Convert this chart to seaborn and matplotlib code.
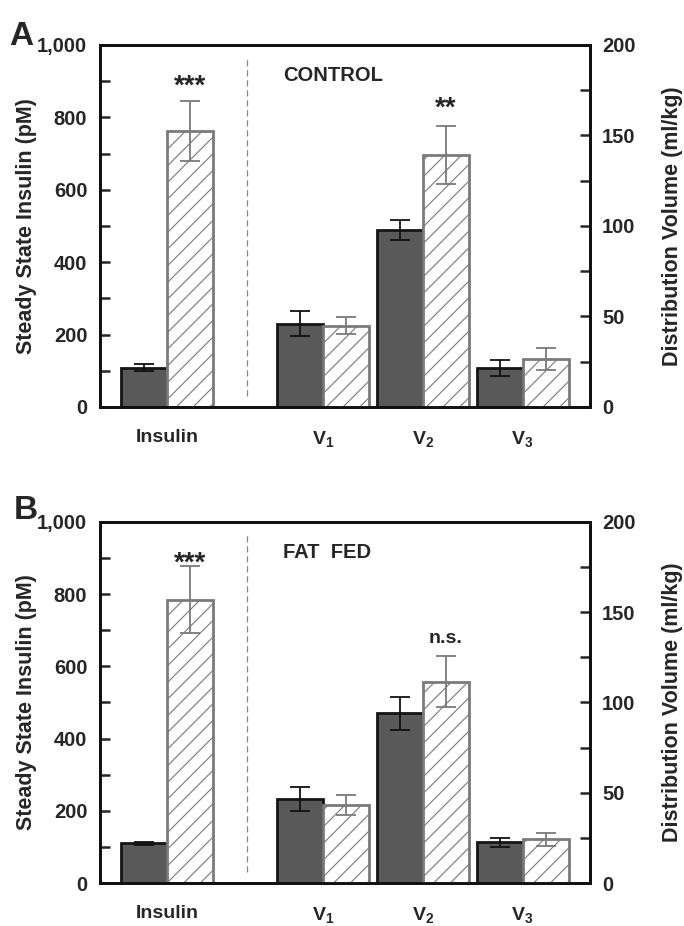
import numpy as np
import pandas as pd
import matplotlib
matplotlib.use("Agg")
import matplotlib.pyplot as plt
import seaborn as sns

# values
groups = ["pre", "post"]
x_labels = ["Insulin", r"$\mathbf{V_1}$", r"$\mathbf{V_2}$", r"$\mathbf{V_3}$"]

# A - control
ctrl_insulin = [108, 762]
ctrl_insulin_err = [10, 84]
ctrl_v_pre = [46, 98, 21.5]
ctrl_v_pre_err = [7, 5.5, 4.4]
ctrl_v_post = [45, 139, 26.5]
ctrl_v_post_err = [4.5, 16, 6]

# B - fat fed
fat_insulin = [110, 784]
fat_insulin_err = [5, 93]
fat_v_pre = [46.4, 94, 22.5]
fat_v_pre_err = [6.7, 9.3, 2.7]
fat_v_post = [43.2, 111.5, 24.2]
fat_v_post_err = [5.5, 14, 3.5]

# layout (group centres on a numeric x scale)
group_pos = [0, 1.56, 2.56, 3.56]

sns.set_style("ticks")
plt.rcParams["font.family"] = ["Liberation Sans", "DejaVu Sans"]
plt.rcParams["font.weight"] = "bold"
plt.rcParams["axes.labelweight"] = "bold"
plt.rcParams["mathtext.fontset"] = "custom"
plt.rcParams["mathtext.bf"] = "Liberation Sans:bold"
plt.rcParams["mathtext.rm"] = "Liberation Sans:bold"
plt.rcParams["hatch.linewidth"] = 0.8

dark = "#595959"
grey = "#7a7a7a"


def style_bars(ax, errs):
    for i, (cont, err) in enumerate(zip(ax.containers, errs)):
        xs = []
        ys = []
        for p in cont.patches:
            if i == 0:
                p.set_facecolor(dark)
                p.set_edgecolor("#151515")
            else:
                p.set_facecolor("white")
                p.set_edgecolor(grey)
                p.set_hatch("//")
            p.set_linewidth(2)
            xs.append(p.get_x() + p.get_width() / 2)
            ys.append(p.get_height())
        ax.errorbar(xs, ys, yerr=err, fmt="none", ecolor="#111111" if i == 0 else grey,
                    elinewidth=1.3, capsize=7, capthick=1.3, zorder=5)


def draw_panel(ax, insulin, insulin_err, v_pre, v_pre_err, v_post, v_post_err,
               title, ins_mark, v2_mark):
    df_ins = pd.DataFrame({"pos": [group_pos[0]] * 2, "group": groups, "value": insulin})
    df_v = pd.DataFrame({"pos": group_pos[1:] * 2,
                         "group": ["pre"] * 3 + ["post"] * 3,
                         "value": v_pre + v_post})
    ax2 = ax.twinx()
    sns.barplot(data=df_ins, x="pos", y="value", hue="group", hue_order=groups,
                native_scale=True, width=0.92, errorbar=None, legend=False,
                palette={"pre": dark, "post": "white"}, ax=ax)
    sns.barplot(data=df_v, x="pos", y="value", hue="group", hue_order=groups,
                native_scale=True, width=0.92, errorbar=None, legend=False,
                palette={"pre": dark, "post": "white"}, ax=ax2)
    style_bars(ax, [[insulin_err[0]], [insulin_err[1]]])
    style_bars(ax2, [v_pre_err, v_post_err])

    ax.set_xlim(-0.67, 4.23)
    ax.set_ylim(0, 1000)
    ax2.set_ylim(0, 200)
    ax.set_xticks(group_pos, x_labels)
    ax.tick_params(axis="x", length=0, pad=16, labelsize=14)
    ax.set_yticks(np.arange(0, 1001, 200), ["0", "200", "400", "600", "800", "1,000"])
    ax.set_yticks(np.arange(100, 1000, 200), minor=True)
    ax2.set_yticks(np.arange(0, 201, 50))
    ax2.set_yticks(np.arange(25, 200, 50), minor=True)
    for a in (ax, ax2):
        a.tick_params(axis="y", which="both", direction="in", length=7, width=1.8,
                      labelsize=14.5, pad=9)
        for s in a.spines.values():
            s.set_linewidth(2)
            s.set_color("#111111")
    ax.set_xlabel("")
    ax.set_ylabel("Steady State Insulin (pM)", fontsize=15.5, fontweight="bold")
    ax.yaxis.set_label_coords(-0.129, 0.5)
    ax2.set_xlabel("")
    ax2.set_ylabel("Distribution Volume (ml/kg)", fontsize=15.5, fontweight="bold")
    ax2.yaxis.set_label_coords(1.147, 0.5)

    ax.axvline(0.8, ymin=0.03, ymax=0.97, color="#888888", lw=0.9, ls=(0, (5, 3)))
    ax.text(1.16, 915, title, fontsize=14.5, fontweight="bold", va="center")

    hatched_ins = ax.containers[1].patches[0]
    ax.text(hatched_ins.get_x() + hatched_ins.get_width() / 2, 885, ins_mark,
            ha="center", va="center", fontsize=20, fontweight="bold")
    hatched_v2 = ax2.containers[1].patches[1]
    top = hatched_v2.get_height() + v_post_err[1]
    ax2.text(hatched_v2.get_x() + hatched_v2.get_width() / 2, top + 10, v2_mark,
             ha="center", va="center", fontsize=20 if v2_mark != "n.s." else 14,
             fontweight="bold")
    return ax2


fig = plt.figure(figsize=(6.84, 9.26), dpi=100)
ax_a = fig.add_axes([0.146, 0.5605, 0.716, 0.391])
ax_b = fig.add_axes([0.146, 0.0464, 0.716, 0.390])

draw_panel(ax_a, ctrl_insulin, ctrl_insulin_err, ctrl_v_pre, ctrl_v_pre_err,
           ctrl_v_post, ctrl_v_post_err, "CONTROL", "***", "**")
draw_panel(ax_b, fat_insulin, fat_insulin_err, fat_v_pre, fat_v_pre_err,
           fat_v_post, fat_v_post_err, "FAT  FED", "***", "n.s.")

fig.text(0.013, 0.977, "A", fontsize=24, fontweight="bold", va="top")
fig.text(0.02, 0.465, "B", fontsize=24, fontweight="bold", va="top")

fig.savefig("out.png", dpi=100)
